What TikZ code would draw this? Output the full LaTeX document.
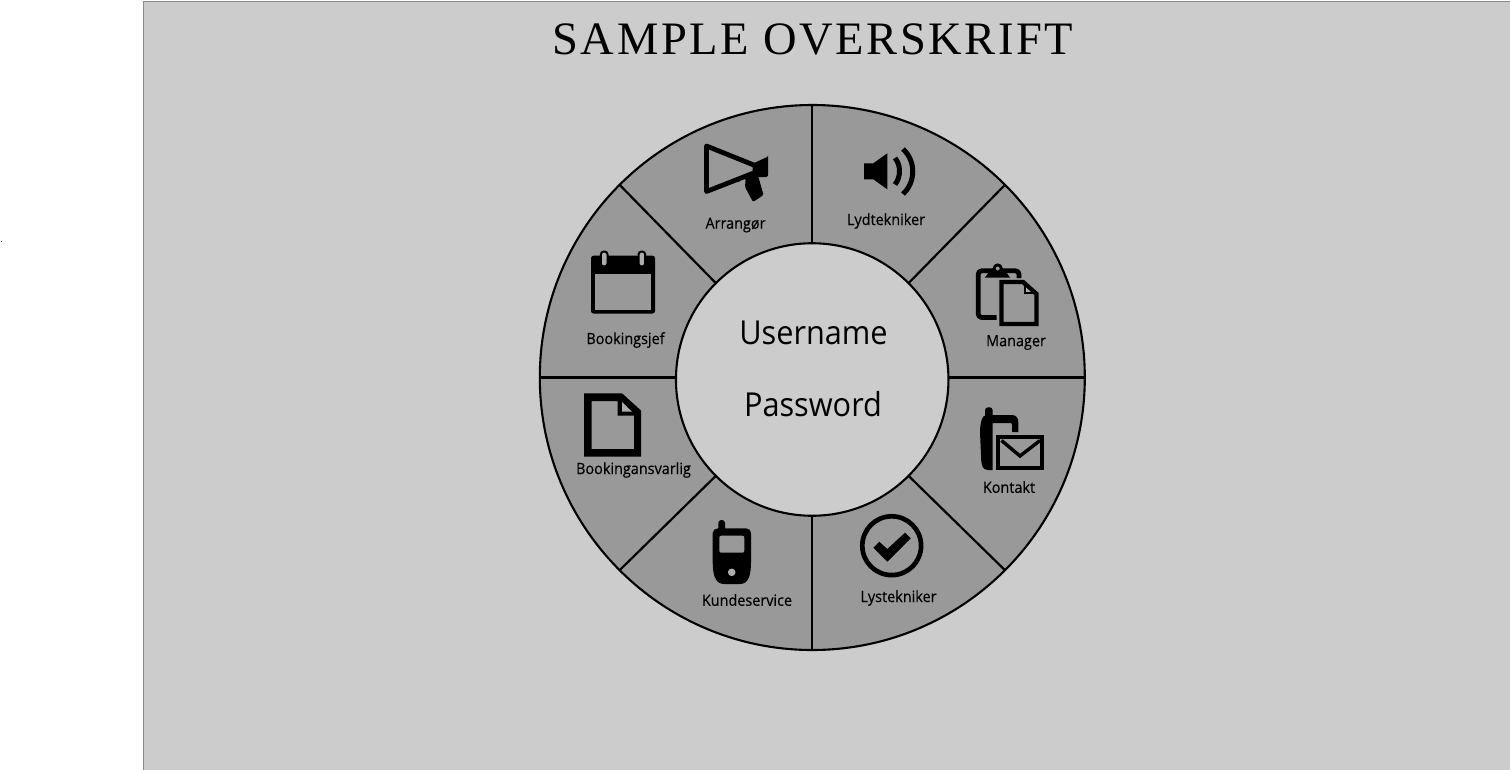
\documentclass[tikz,border=0pt]{standalone}
\usepackage{fontspec}
\setmainfont{Open Sans}[FakeStretch=0.93]
\newfontfamily\rolefont{Open Sans}[FakeStretch=0.93,FakeBold=0.35]
\newfontfamily\titlefont{Liberation Serif}[LetterSpace=5.6]
\definecolor{pagebg}{HTML}{CCCCCC}
\definecolor{ringbg}{HTML}{999999}
\definecolor{framec}{HTML}{8A8A8A}
\tikzset{
  ringc/.style={circle,draw=black,line width=2.1pt,outer sep=0pt,inner sep=0pt},
  divider/.style={draw=black,line width=2.2pt},
  rolelabel/.style={font=\rolefont\fontsize{15.5}{18}\selectfont,text=black,inner sep=0pt,anchor=center},
  loginlabel/.style={font=\fontsize{33}{38}\selectfont,text=black,inner sep=0pt,anchor=center},
  iconline/.style={draw=black,line width=4.4pt,line join=round},
}
\begin{document}
\begin{tikzpicture}[x=1pt,y=-1pt]
\useasboundingbox (0,0) rectangle (1510,769);
\fill[white] (0,0) rectangle (1510,769);
\draw[framec,fill=pagebg,line width=1pt] (143,1) rectangle (1512,772);
\fill[black!70] (0.6,240.5) rectangle (1.8,241.5);
\node[inner sep=0pt,font=\titlefont\fontsize{46.5}{50}\selectfont] (title) at (813,39) {SAMPLE OVERSKRIFT};

\node[ringc,fill=ringbg,minimum size=545pt] (outer) at (812.3,377.5) {};
\node[ringc,fill=pagebg,minimum size=272.5pt] (inner) at (812.2,379.5) {};
\draw[divider] (outer.90) -- (outer.90 |- inner.90);
\draw[divider] (outer.270) -- (outer.270 |- inner.270);
\draw[divider] (outer.0) -- (outer.0 -| inner.0);
\draw[divider] (outer.180) -- (outer.180 -| inner.180);
\draw[divider] (outer.45) -- (inner.45);
\draw[divider] (outer.135) -- (inner.135);
\draw[divider] (outer.225) -- (inner.225);
\draw[divider] (outer.315) -- (inner.315);

\node[loginlabel] (user) at (813.5,332.5) {Username};
\node[loginlabel] (pass) at (813,404) {Password};

\node[rolelabel] (arr) at (735.5,225) {Arrangør};
\node[rolelabel] (lyd) at (886,221) {Lydtekniker};
\node[rolelabel] (man) at (1016,342.5) {Manager};
\node[rolelabel] (boj) at (625.5,340) {Bookingsjef};
\node[rolelabel] (boa) at (633.5,470) {Bookingansvarlig};
\node[rolelabel] (kon) at (1009,487) {Kontakt};
\node[rolelabel] (lys) at (898.5,598) {Lystekniker};
\node[rolelabel] (kun) at (747,600) {Kundeservice};

% megaphone
\draw[black,line width=2.2pt] (738,181.5) arc[start angle=190,end angle=340,radius=5];
\draw[iconline,line width=4.8pt] (706.5,146) -- (755,165.5) -- (755,172.5) -- (706.5,191.5) -- cycle;
\fill[black] (753,163.5) -- (766,157.5) arc[start angle=90,end angle=0,radius=2] -- (768,175) arc[start angle=0,end angle=90,radius=2] -- (753,177) -- cycle;
\fill[black,rounded corners=1.5pt] (746,175) -- (757,172) -- (763.5,195) -- (753,202) -- (745,187) -- cycle;

% speaker
\fill[black] (864,163.3) -- (873.3,163.3) -- (887.3,153.3) -- (887.3,189.3) -- (873.3,179.3) -- (864,179.3) -- cycle;
\draw[black,line width=5pt] (895,158) .. controls (901,165) and (901,177) .. (895,184.5);
\draw[black,line width=5pt] (903,149) .. controls (916,161) and (916,182) .. (903,194);

% clipboard and page
\draw[iconline,line width=4.8pt,rounded corners=3.5pt] (996.5,317.5) -- (978.2,317.5) -- (978.2,270.8) -- (1019,270.8) -- (1019,278);
\fill[black] (985,277.5) -- (989,272) -- (1006,272) -- (1010,277.5) -- cycle;
\draw[black,line width=2.8pt,fill=ringbg] (997.7,268.5) circle[radius=3.6];
\fill[ringbg] (999,279.5) rectangle (1040,327);
\draw[iconline,line width=4.4pt,line join=miter] (1001.5,282) -- (1023,282) -- (1036.5,294) -- (1036.5,324) -- (1001.5,324) -- cycle;
\draw[black,line width=1.8pt,line join=miter,fill=ringbg!80!white] (1025,285) -- (1033.5,293) -- (1025,293) -- cycle;

% calendar
\fill[black,rounded corners=2.5pt] (591,255.7) rectangle (655,313.5);
\fill[ringbg] (595,273.5) rectangle (651,309.5);
\draw[black,line width=2pt,fill=ringbg!80!white,rounded corners=3pt] (600.8,251.5) rectangle (607.5,266.5);
\draw[black,line width=2pt,fill=ringbg!80!white,rounded corners=3pt] (638.5,251.5) rectangle (645.2,266.5);

% document
\fill[black,even odd rule] (584,393.3) -- (622,393.3) -- (641,410.5) -- (641,456.7) -- (584,456.7) -- cycle
  (591.7,401) -- (617.5,401) -- (617.5,415.7) -- (634,415.7) -- (634,449) -- (591.7,449) -- cycle;
\fill[ringbg!80!white] (622,402) -- (632,411.7) -- (622,411.7) -- cycle;

% phone
\fill[black,rounded corners=3pt] (718.3,520) rectangle (725,535);
\fill[black] (718,528.3) -- (746,528.3) .. controls (749,528.3) and (751,530.5) .. (751,533)
  -- (751,562) .. controls (751,574) and (749,584) .. (740,584)
  -- (724,584) .. controls (715,584) and (712.7,574) .. (712.7,562)
  -- (712.7,533) .. controls (712.7,530.5) and (715,528.3) .. (718,528.3) -- cycle;
\fill[ringbg,rounded corners=2pt] (719.3,535.7) rectangle (744.3,552.7);
\fill[ringbg!80!white] (731.7,572.3) circle[radius=3.8];

% phone with envelope
\fill[black,rounded corners=3pt] (985,407.3) rectangle (992.7,425);
\fill[black] (986,415) -- (1012,415) .. controls (1016,415) and (1018.3,418) .. (1018.3,422) -- (1018.3,432) -- (1012,432) -- (1012,425)
  .. controls (1012,423) and (1011,423) .. (1010,423) -- (992.7,423) -- (992.7,470) -- (988,470)
  .. controls (983,470) and (981.5,466) .. (981.2,460) -- (980,432)
  .. controls (980,424) and (982,415) .. (986,415) -- cycle;
\fill[ringbg] (992.7,433) rectangle (996,472);
\draw[black,line width=3.8pt,fill=ringbg,line join=miter] (997.6,437) rectangle (1042,468.3);
\draw[black,line width=3.4pt,line join=miter] (1001.5,440.5) -- (1020,456) -- (1040,440.5);

% check
\draw[black,line width=4.7pt] (891.7,545.7) circle[radius=29.4];
\fill[black] (873.3,547.7) -- (879.3,541.7) -- (887.3,549) -- (905,532.7) -- (910.7,538.3) -- (887.3,561.7) -- cycle;
\end{tikzpicture}
\end{document}
